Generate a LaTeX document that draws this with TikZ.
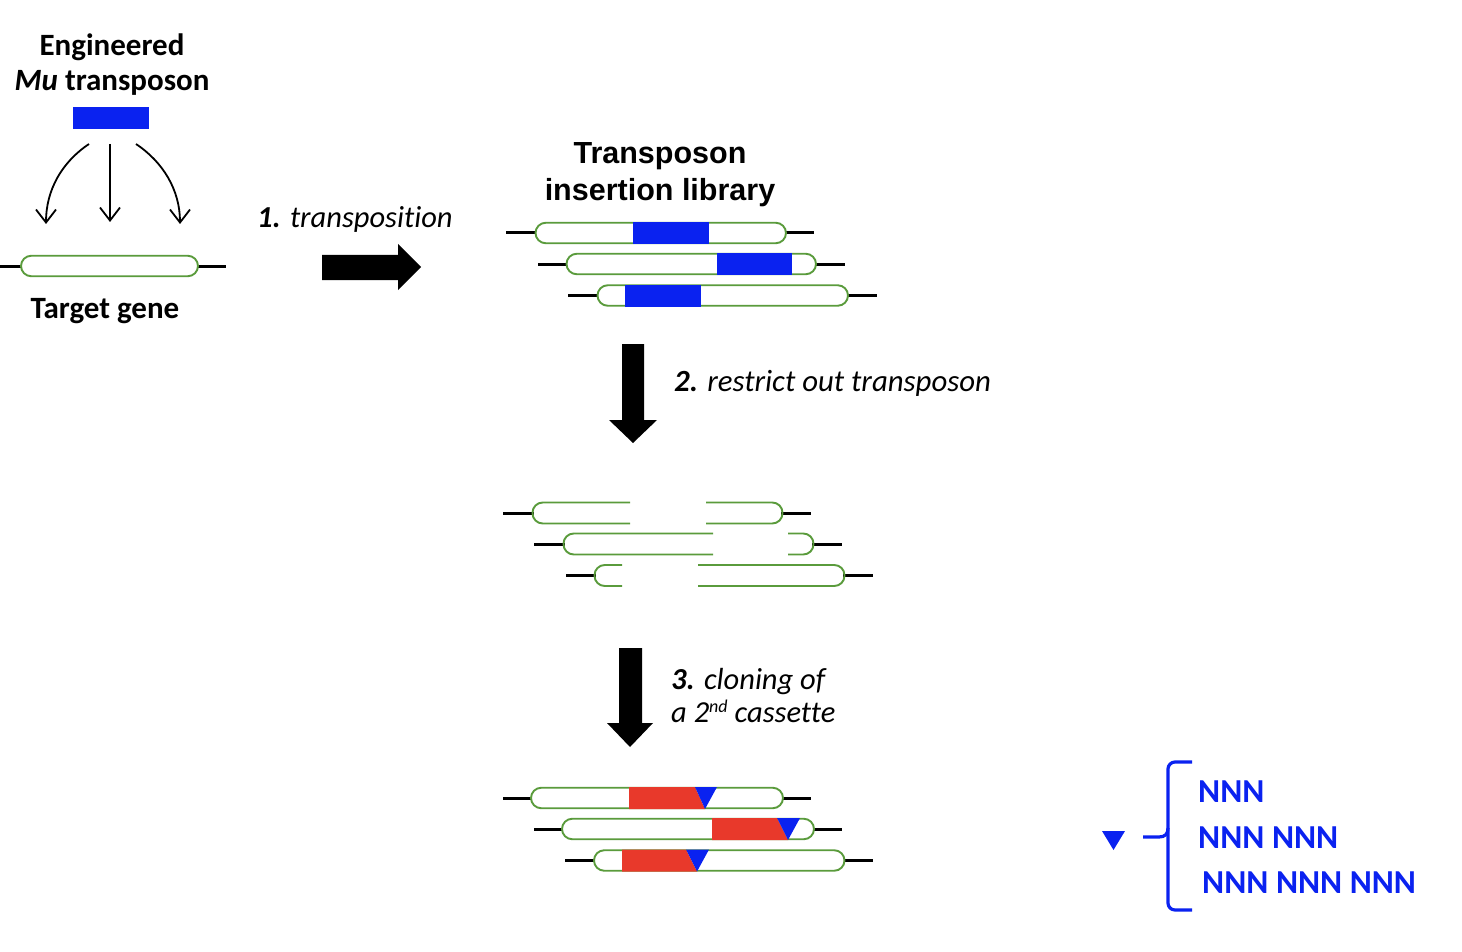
\documentclass[tikz,border=0pt]{standalone}
\usepackage{fontspec}
\setmainfont{Carlito}[Ligatures=NoCommon]
\newfontfamily\arialf{Liberation Sans}
\usetikzlibrary{arrows.meta,shapes.misc}
\definecolor{tblue}{HTML}{0A22F0}
\definecolor{tred}{HTML}{E8392B}
\definecolor{tgreen}{HTML}{5A9B3C}
\tikzset{
  capsule/.style={rounded rectangle, draw=tgreen, line width=1.9pt, fill=white, minimum height=20.5pt, inner sep=0pt, outer sep=0pt},
  dna/.style={line width=3pt, black},
  gpath/.style={draw=tgreen, line width=1.9pt, rounded corners=10.2pt},
  thinarrow/.style={line width=1.8pt, -{Straight Barb[length=13pt,width=20pt,line width=1.8pt]}},
  bigarrow/.style={fill=black, draw=none},
  lbl/.style={font=\fontsize{30.5}{36}\selectfont, inner sep=0pt, anchor=base},
  ttl/.style={font=\arialf\bfseries\fontsize{30.5}{36}\selectfont, inner sep=0pt, anchor=base},
  nnn/.style={font=\bfseries\fontsize{33.5}{38}\selectfont, text=tblue, inner sep=0pt, anchor=base west},
}
% name, left line start, capsule left, capsule right, right line end, y
\newcommand\gbar[6]{%
  \coordinate (#1l) at (#2,#6);
  \coordinate (#1r) at (#5,#6);
  \draw[dna] (#1l) -- ({#3+2},#6);
  \draw[dna] ({#4-2},#6) -- (#1r);
  \node[capsule, minimum width={#4-#3}] (#1) at ({(#3+#4)/2},#6) {};
}
\begin{document}
\begin{tikzpicture}[x=1pt,y=-1pt]
\useasboundingbox (0,0) rectangle (1462,952);

% ---------- top left ----------
\node[lbl, font=\bfseries\fontsize{31}{36}\selectfont] (eng) at (112,56) {Engineered};
\node[lbl, font=\bfseries\fontsize{31}{36}\selectfont] (mu) at (112,91) {\itshape Mu\upshape{} transposon};
\node[fill=tblue, minimum width=76pt, minimum height=22pt, inner sep=0pt] (tn) at (111,118) {};
\coordinate (a1s) at (89,144);
\coordinate (a2s) at (110,144);
\coordinate (a3s) at (136,144);
\coordinate (a1e) at (46,224);
\coordinate (a2e) at (110,222);
\coordinate (a3e) at (180,224);
\draw[thinarrow] (a1s) .. controls (62,162) and (46,190) .. (a1e);
\draw[thinarrow] (a2s) -- (a2e);
\draw[thinarrow] (a3s) .. controls (163,162) and (180,190) .. (a3e);
\gbar{tg}{0}{21}{198}{226}{266}
\node[lbl, font=\bfseries\fontsize{31}{36}\selectfont] (tglbl) at (105,318) {Target gene};

% ---------- step 1 ----------
\node[lbl, anchor=base west, font=\itshape\fontsize{30.5}{36}\selectfont] (s1) at (257,228) {\bfseries 1.\mdseries{} transposition};
\draw[bigarrow] (322,255) -- (398,255) -- (398,244) -- (421,267) -- (398,290) -- (398,280) -- (322,280) -- cycle;

% ---------- library ----------
\node[ttl] (lib1) at (660,164) {Transposon};
\node[ttl] (lib2) at (660,201) {insertion library};
\gbar{la}{506}{535.5}{786}{814}{233}
\gbar{lb}{538}{566.5}{816}{845}{264}
\gbar{lc}{568}{597.5}{848}{877}{295.5}
\fill[tblue] (633,222) rectangle (709,244);
\fill[tblue] (717,253) rectangle (792,275);
\fill[tblue] (625,284.5) rectangle (701,306.5);

% ---------- step 2 ----------
\draw[bigarrow] (622,344) -- (644,344) -- (644,420) -- (657,420) -- (633,443) -- (609,420) -- (622,420) -- cycle;
\node[lbl, anchor=base west, font=\itshape\fontsize{30.8}{36}\selectfont] (s2) at (674,391) {\bfseries 2.\mdseries{} restrict out transposon};

% ---------- restricted ----------
\coordinate (ral) at (503,513); \coordinate (rar) at (811,513);
\draw[dna] (ral) -- (534,513); \draw[dna] (781,513) -- (rar);
\draw[gpath] (630,502.5) -- (532.5,502.5) -- (532.5,523.5) -- (630,523.5);
\draw[gpath] (706,502.5) -- (782.5,502.5) -- (782.5,523.5) -- (706,523.5);
\coordinate (rbl) at (534,544); \coordinate (rbr) at (842,544);
\draw[dna] (rbl) -- (565,544); \draw[dna] (812,544) -- (rbr);
\draw[gpath] (713,533.5) -- (563.5,533.5) -- (563.5,554.5) -- (713,554.5);
\draw[gpath] (788,533.5) -- (813.5,533.5) -- (813.5,554.5) -- (788,554.5);
\coordinate (rcl) at (566,575.5); \coordinate (rcr) at (873,575.5);
\draw[dna] (rcl) -- (596,575.5); \draw[dna] (843,575.5) -- (rcr);
\draw[gpath] (622,565) -- (594.5,565) -- (594.5,586) -- (622,586);
\draw[gpath] (698,565) -- (844.5,565) -- (844.5,586) -- (698,586);

% ---------- step 3 ----------
\draw[bigarrow] (619,648) -- (642,648) -- (642,723) -- (653,723) -- (630,747) -- (607,723) -- (619,723) -- cycle;
\node[lbl, anchor=base west, font=\itshape\fontsize{30.5}{36}\selectfont] (s3a) at (671,689) {\bfseries 3.\mdseries{} cloning of};
\node[lbl, anchor=base west, font=\itshape\fontsize{30.5}{36}\selectfont] (s3b) at (671,722) {a 2\raisebox{10pt}{\fontsize{18}{20}\selectfont nd} cassette};

% ---------- final ----------
\gbar{fa}{503}{531}{783}{811}{798}
\gbar{fb}{534}{562}{814}{842}{829}
\gbar{fc}{565}{594}{844.5}{873}{860.5}
\fill[tred] (629,787) -- (695,787) -- (705,809) -- (629,809) -- cycle;
\fill[tblue] (695,787) -- (717,787) -- (705,809) -- cycle;
\fill[tred] (712,818) -- (777,818) -- (788,840) -- (712,840) -- cycle;
\fill[tblue] (777,818) -- (800,818) -- (788,840) -- cycle;
\fill[tred] (622,849.5) -- (686,849.5) -- (697,871.5) -- (622,871.5) -- cycle;
\fill[tblue] (686,849.5) -- (709,849.5) -- (697,871.5) -- cycle;

% ---------- legend ----------
\fill[tblue] (1102,831) -- (1125,831) -- (1113.5,850) -- cycle;
\coordinate (bs) at (1143,837);
\draw[tblue, line width=3.2pt, rounded corners=7pt] (1192,762) -- (1168,762) -- (1168,910) -- (1192,910);
\draw[tblue, line width=3.2pt] (bs) -- (1159,837) .. controls (1165,837) and (1168,834) .. (1168,828);
\node[nnn] (n1) at (1198,802) {NNN};
\node[nnn] (n2) at (1198,848) {NNN NNN};
\node[nnn] (n3) at (1202,893) {NNN NNN NNN};
\end{tikzpicture}
\end{document}
